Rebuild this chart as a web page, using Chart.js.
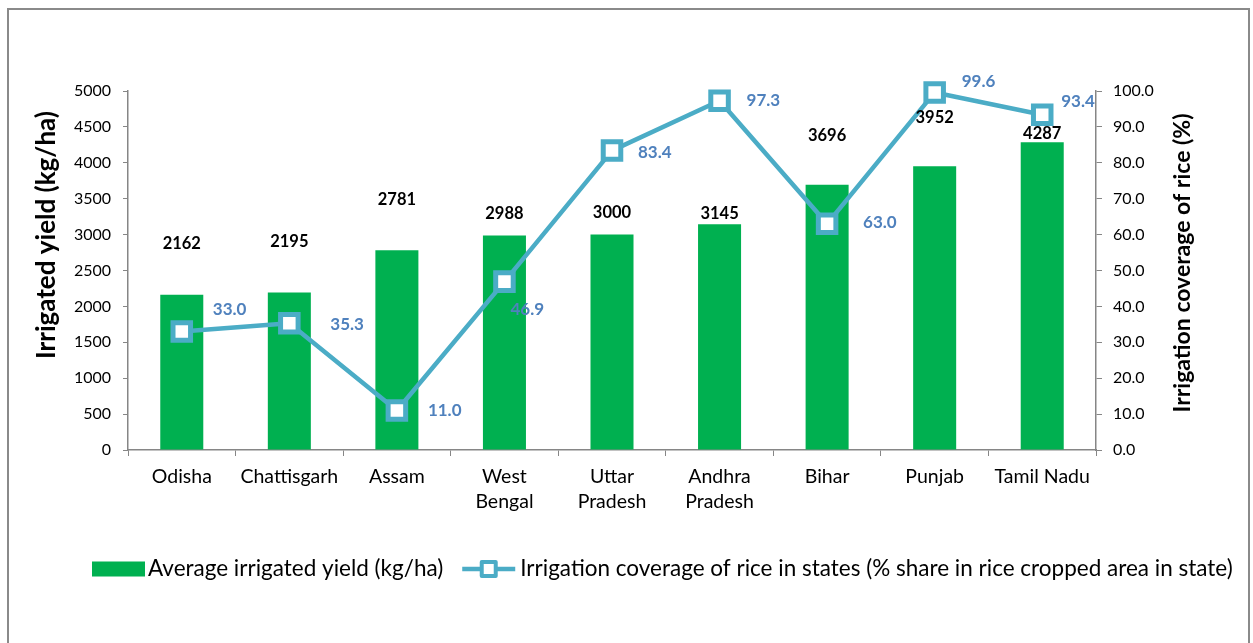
<!DOCTYPE html>
<html>
<head>
<meta charset="utf-8">
<script src="https://cdn.jsdelivr.net/npm/chart.js@4.4.1/dist/chart.umd.min.js"></script>
<style>
  html, body { margin: 0; padding: 0; background: #fff; overflow: hidden; }
  #wrap { position: relative; width: 1253px; height: 643px; }
  #frame { position: absolute; left: 7px; top: 8px; width: 1243px; height: 660px; border: 2px solid #8a8a8a; box-sizing: border-box; pointer-events: none; }
  canvas { position: absolute; left: 0; top: 0; }
</style>
</head>
<body>
<div id="wrap">
  <canvas id="c" width="1253" height="643"></canvas>
  <div id="frame"></div>
</div>
<script>
// ---- data ----
const categories = ['Odisha', 'Chattisgarh', 'Assam', ['West', 'Bengal'], ['Uttar', 'Pradesh'], ['Andhra', 'Pradesh'], 'Bihar', 'Punjab', 'Tamil Nadu'];
const yieldValues = [2162, 2195, 2781, 2988, 3000, 3145, 3696, 3952, 4287];
const coverageValues = [33.0, 35.3, 11.0, 46.9, 83.4, 97.3, 63.0, 99.6, 93.4];
const yieldTicks = [0, 500, 1000, 1500, 2000, 2500, 3000, 3500, 4000, 4500, 5000];
const coverageTicks = [0, 10, 20, 30, 40, 50, 60, 70, 80, 90, 100];
const seriesNames = ['Average irrigated yield (kg/ha)', 'Irrigation coverage of rice in states (% share in rice cropped area in state)'];
const axisTitles = ['Irrigated yield (kg/ha)', 'Irrigation coverage of rice (%)'];

// ---- style ----
const FONT = 'Lato, "Open Sans", sans-serif';
const GREEN = '#00B050';
const TEAL = '#4BACC6';
const LABEL_BLUE = '#4F81BD';
const AXIS_GREY = '#868686';
// label offsets (px) relative to marks
const barLabelDy = [-51, -51, -51, -22, -22, -11, -49, -49, -9];
const lineLabelDx = [31, 41, 31, 6, 26, 27, 36, 27, 19];
const lineLabelDy = [-22, 1, 0, 28, 2, 0, -1, -11, -13];

const extras = {
  id: 'extras',
  afterDatasetsDraw(chart) {
    const ctx = chart.ctx;
    ctx.save();
    const barMeta = chart.getDatasetMeta(1);
    ctx.font = 'bold 16.5px ' + FONT;
    ctx.fillStyle = '#000';
    ctx.textAlign = 'center';
    ctx.textBaseline = 'middle';
    barMeta.data.forEach((el, i) => {
      ctx.fillText(String(chart.data.datasets[1].data[i]), el.x, el.y + barLabelDy[i]);
    });
    const lineMeta = chart.getDatasetMeta(0);
    ctx.font = 'bold 17px ' + FONT;
    ctx.fillStyle = LABEL_BLUE;
    ctx.textAlign = 'left';
    lineMeta.data.forEach((el, i) => {
      ctx.fillText(chart.data.datasets[0].data[i].toFixed(1), el.x + lineLabelDx[i], el.y + lineLabelDy[i]);
    });
    ctx.restore();
  },
  afterDraw(chart) {
    const ctx = chart.ctx;
    // axis titles
    const drawTitle = (text, size, cx, cy) => {
      ctx.save();
      ctx.font = 'bold ' + size + 'px ' + FONT;
      ctx.fillStyle = '#000';
      ctx.textAlign = 'center';
      ctx.textBaseline = 'middle';
      ctx.translate(cx, cy);
      ctx.rotate(-Math.PI / 2);
      ctx.fillText(text, 0, 0);
      ctx.restore();
    };
    drawTitle(axisTitles[0], 26, 47, 235);
    drawTitle(axisTitles[1], 23, 1183, 263);

    // legend
    ctx.save();
    const ly = 569;
    let x = 92;
    ctx.font = '22.5px ' + FONT;
    ctx.textBaseline = 'middle';
    ctx.textAlign = 'left';
    ctx.fillStyle = GREEN;
    ctx.fillRect(x, ly - 7.5, 53, 15);
    x += 56;
    ctx.fillStyle = '#000';
    ctx.fillText(chart.data.datasets[1].label, x, ly);
    x += ctx.measureText(chart.data.datasets[1].label).width + 19;
    ctx.strokeStyle = TEAL;
    ctx.lineWidth = 4.5;
    ctx.beginPath();
    ctx.moveTo(x, ly);
    ctx.lineTo(x + 53, ly);
    ctx.stroke();
    ctx.lineJoin = 'round';
    ctx.fillStyle = '#fff';
    ctx.lineWidth = 4;
    ctx.fillRect(x + 26.5 - 7, ly - 7, 14, 14);
    ctx.strokeRect(x + 26.5 - 7, ly - 7, 14, 14);
    x += 58;
    ctx.fillStyle = '#000';
    ctx.fillText(chart.data.datasets[0].label, x, ly);
    ctx.restore();
  }
};

const numFont = { family: FONT, size: 16 };

new Chart(document.getElementById('c'), {
  data: {
    labels: categories,
    datasets: [
      {
        type: 'line',
        label: seriesNames[1],
        data: coverageValues,
        yAxisID: 'y2',
        borderColor: TEAL,
        borderWidth: 4.5,
        pointStyle: 'rect',
        pointRadius: 12.4,
        pointHoverRadius: 12.4,
        pointBorderWidth: 5,
        pointBackgroundColor: '#fff',
        pointBorderColor: TEAL,
        borderJoinStyle: 'round',
        tension: 0,
        clip: false,
        order: 0
      },
      {
        type: 'bar',
        label: seriesNames[0],
        data: yieldValues,
        yAxisID: 'y',
        backgroundColor: GREEN,
        borderWidth: 0,
        barPercentage: 0.4,
        categoryPercentage: 1.0,
        order: 1
      }
    ]
  },
  options: {
    responsive: false,
    animation: false,
    events: [],
    layout: { padding: { left: 10, right: 10, top: 91, bottom: 130 } },
    plugins: { legend: { display: false }, tooltip: { enabled: false } },
    scales: {
      x: {
        offset: true,
        grid: { display: true, drawOnChartArea: false, drawTicks: true, tickLength: 6, color: AXIS_GREY, offset: true },
        border: { display: true, color: AXIS_GREY, width: 1.5 },
        ticks: { font: { family: FONT, size: 19.5, lineHeight: 1.28 }, color: '#000', padding: 8.5, maxRotation: 0, autoSkip: false },
        afterFit(s) { s.height = 63; }
      },
      y: {
        position: 'left',
        min: 0, max: 5000,
        afterBuildTicks(s) { s.ticks = yieldTicks.map(v => ({ value: v })); },
        grid: { drawOnChartArea: false, drawTicks: true, tickLength: 5, color: AXIS_GREY },
        border: { display: true, color: AXIS_GREY, width: 1.5 },
        ticks: { font: numFont, color: '#000', padding: 12, callback: v => String(v) },
        afterFit(s) { s.width = 118; }
      },
      y2: {
        position: 'right',
        min: 0, max: 100,
        afterBuildTicks(s) { s.ticks = coverageTicks.map(v => ({ value: v })); },
        grid: { drawOnChartArea: false, drawTicks: true, tickLength: 6, color: AXIS_GREY },
        border: { display: true, color: AXIS_GREY, width: 1.5 },
        ticks: { font: numFont, color: '#000', padding: 11, callback: v => Number(v).toFixed(1) },
        afterFit(s) { s.width = 147; }
      }
    }
  },
  plugins: [extras]
});
</script>
</body>
</html>
